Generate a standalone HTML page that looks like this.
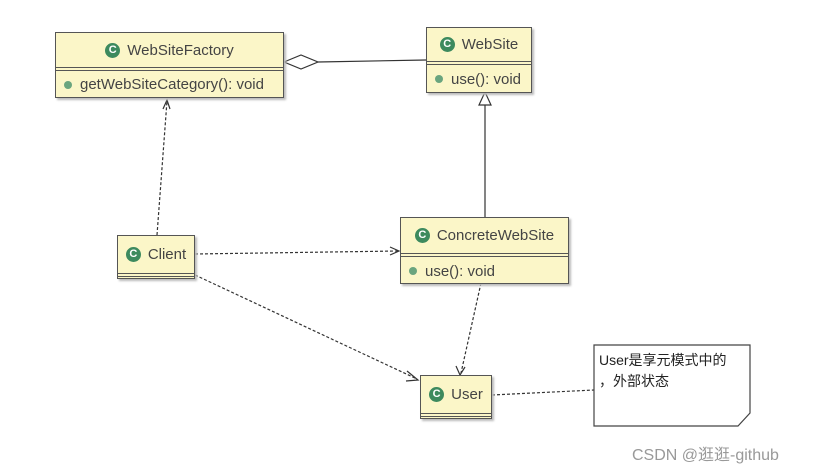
<!DOCTYPE html>
<html><head><meta charset="utf-8"><style>
body{margin:0;background:#fff;width:818px;height:469px;overflow:hidden;position:relative;font-family:"Liberation Sans","Noto Sans CJK SC",sans-serif}
.c{position:absolute;background:#fbf6c8;border:1px solid #555;box-shadow:2px 2px 2px #bbb;box-sizing:border-box}
.h{display:flex;align-items:center;justify-content:center;font-size:15px;color:#444;border-bottom:1px solid #555}
.s{border-bottom:1px solid #555;height:2px}
.m{font-size:15px;color:#444;display:flex;align-items:center;padding-left:8px}
.g{display:inline-block;width:15px;height:15px;border-radius:50%;background:#3d8a5e;color:#fff;font-size:11px;font-weight:bold;line-height:15px;text-align:center;margin-right:7px}
.d{display:inline-block;width:8px;height:8px;border-radius:50%;background:#6aa57e;margin-right:8px}
</style></head><body>
<svg width="818" height="469" style="position:absolute;left:0;top:0">
<g stroke="#333" fill="none" stroke-width="1.2">
<polygon points="284,62 301,55 318,62 301,69" fill="#fff"/>
<line x1="318" y1="62" x2="426" y2="60"/>
<polygon points="485,92 479,105 491,105" fill="#fff"/>
<line x1="485" y1="105" x2="485" y2="217"/>
<g stroke-dasharray="3,2">
<line x1="157" y1="235" x2="167" y2="101"/>
<line x1="195" y1="254" x2="398" y2="251"/>
<line x1="195" y1="275" x2="417" y2="379"/>
<line x1="481" y1="283" x2="461" y2="373"/>
<line x1="492" y1="395" x2="594" y2="390"/>
</g>
<polyline points="163,109 167,100 170,109"/>
<polyline points="390,247 399,251 390,255"/>
<polyline points="407,371 418,380 406,381"/>
<polyline points="456,366 460,375 465,367"/>
<path d="M594,345 H750 V413 L738,426 H594 Z" fill="#fff" stroke="#444"/>
</g>
</svg>
<div class="c" style="left:55px;top:32px;width:229px;height:66px">
<div class="h" style="height:34px"><span class="g">C</span>WebSiteFactory</div><div class="s"></div>
<div class="m" style="height:27px"><span class="d"></span>getWebSiteCategory(): void</div></div>
<div class="c" style="left:426px;top:27px;width:106px;height:66px">
<div class="h" style="height:33px"><span class="g">C</span>WebSite</div><div class="s"></div>
<div class="m" style="height:28px"><span class="d"></span>use(): void</div></div>
<div class="c" style="left:400px;top:217px;width:169px;height:67px">
<div class="h" style="height:35px"><span class="g">C</span>ConcreteWebSite</div><div class="s"></div>
<div class="m" style="height:28px"><span class="d"></span>use(): void</div></div>
<div class="c" style="left:117px;top:235px;width:78px;height:44px">
<div class="h" style="height:37px"><span class="g">C</span>Client</div><div class="s"></div></div>
<div class="c" style="left:420px;top:375px;width:72px;height:44px">
<div class="h" style="height:37px"><span class="g">C</span>User</div><div class="s"></div></div>
<div style="position:absolute;left:599px;top:350px;font-size:14px;color:#222;line-height:21px">User是享元模式中的<br>，外部状态</div>
<div style="position:absolute;left:632px;top:441px;font-size:16px;color:#999">CSDN @逛逛-github</div>
</body></html>
